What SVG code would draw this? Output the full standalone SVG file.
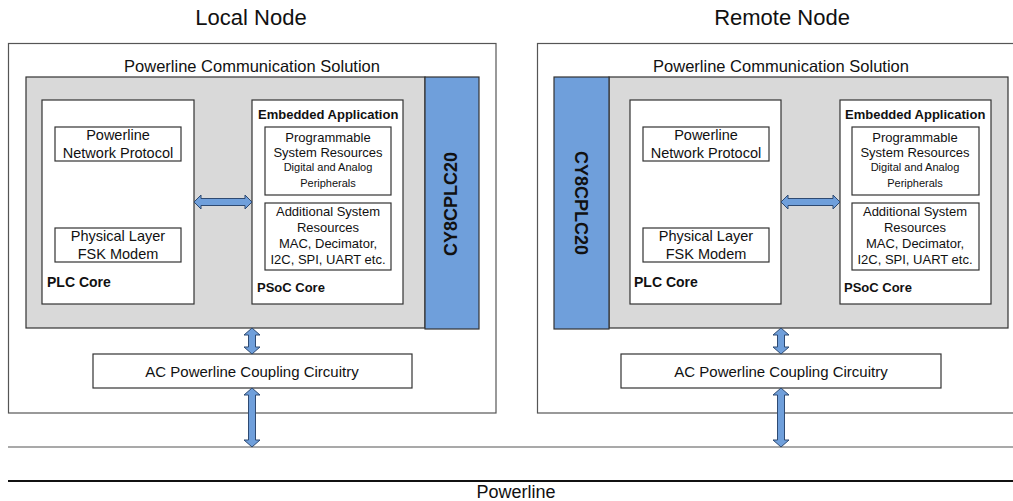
<svg xmlns="http://www.w3.org/2000/svg" width="1013" height="501" viewBox="0 0 1013 501">
<style>
text{font-family:"Liberation Sans",Arial,sans-serif;fill:#111;}
.frame{fill:#fff;stroke:#555;stroke-width:1.2;}
.gray{fill:#d9d9d9;stroke:#333;stroke-width:1.2;}
.blue{fill:#6f9fdb;stroke:#333;stroke-width:1.2;}
.box{fill:#fff;stroke:#333;stroke-width:1.2;}
.arrow{fill:#6f9fdb;stroke:#2e4a72;stroke-width:1;}
.t22{font-size:22px;text-anchor:middle;}
.t16{font-size:16.5px;text-anchor:middle;}
.t14{font-size:14.5px;text-anchor:middle;}
.t13{font-size:13px;text-anchor:middle;}
.t11{font-size:11px;text-anchor:middle;}
.b14{font-size:14px;font-weight:bold;}
.b13{font-size:13px;font-weight:bold;}
.chip{font-size:18px;font-weight:bold;text-anchor:middle;}
.t15{font-size:15px;text-anchor:middle;}
</style>

<g id="local-node">
  <text class="t22" x="251" y="25">Local Node</text>
  <rect class="frame" x="8.5" y="43.5" width="487.5" height="369.5"/>
  <text class="t16" x="252" y="72">Powerline Communication Solution</text>
  <rect class="gray" x="26" y="77" width="399" height="251"/>
  <rect class="blue" x="425" y="77" width="54" height="252"/>
  <text class="chip" transform="translate(457,204) rotate(-90)">CY8CPLC20</text>
  <g id="local-plc-core">
    <rect class="box" x="42" y="100" width="152" height="204"/>
    <rect class="box" x="55" y="127" width="126" height="34"/>
    <text class="t14" x="118" y="140">Powerline</text>
    <text class="t14" x="118" y="158">Network Protocol</text>
    <rect class="box" x="55" y="228" width="126" height="34"/>
    <text class="t14" x="118" y="241">Physical Layer</text>
    <text class="t14" x="118" y="259">FSK Modem</text>
    <text class="b14" x="47" y="287">PLC Core</text>
  </g>
  <g id="local-psoc-core">
    <rect class="box" x="252" y="100" width="151" height="204"/>
    <text class="b13" x="258" y="119">Embedded Application</text>
    <rect class="box" x="265" y="127" width="126" height="68"/>
    <text class="t13" x="328" y="142">Programmable</text>
    <text class="t13" x="328" y="157">System Resources</text>
    <text class="t11" x="328" y="171">Digital and Analog</text>
    <text class="t11" x="328" y="187">Peripherals</text>
    <rect class="box" x="265" y="203" width="126" height="67"/>
    <text class="t13" x="328" y="216">Additional System</text>
    <text class="t13" x="328" y="232">Resources</text>
    <text class="t13" x="328" y="248">MAC, Decimator,</text>
    <text class="t13" x="328" y="264">I2C, SPI, UART etc.</text>
    <text class="b13" x="257" y="292">PSoC Core</text>
  </g>
  <g id="local-ac">
    <rect class="box" x="93" y="354" width="319" height="34"/>
    <text class="t15" x="252" y="377">AC Powerline Coupling Circuitry</text>
  </g>
</g>

<g id="remote-node">
  <text class="t22" x="782" y="25">Remote Node</text>
  <rect class="frame" x="537.5" y="43.5" width="480" height="369.5"/>
  <text class="t16" x="781" y="72">Powerline Communication Solution</text>
  <rect class="gray" x="609" y="77" width="399" height="251"/>
  <rect class="blue" x="554" y="77" width="55" height="252"/>
  <text class="chip" transform="translate(575,203) rotate(90)">CY8CPLC20</text>
  <g id="remote-plc-core">
    <rect class="box" x="630" y="100" width="151" height="204"/>
    <rect class="box" x="643" y="127" width="126" height="34"/>
    <text class="t14" x="706" y="140">Powerline</text>
    <text class="t14" x="706" y="158">Network Protocol</text>
    <rect class="box" x="643" y="228" width="126" height="34"/>
    <text class="t14" x="706" y="241">Physical Layer</text>
    <text class="t14" x="706" y="259">FSK Modem</text>
    <text class="b14" x="634" y="287">PLC Core</text>
  </g>
  <g id="remote-psoc-core">
    <rect class="box" x="840" y="100" width="151" height="204"/>
    <text class="b13" x="845" y="119">Embedded Application</text>
    <rect class="box" x="852" y="127" width="127" height="68"/>
    <text class="t13" x="915" y="142">Programmable</text>
    <text class="t13" x="915" y="157">System Resources</text>
    <text class="t11" x="915" y="171">Digital and Analog</text>
    <text class="t11" x="915" y="187">Peripherals</text>
    <rect class="box" x="852" y="203" width="127" height="67"/>
    <text class="t13" x="915" y="216">Additional System</text>
    <text class="t13" x="915" y="232">Resources</text>
    <text class="t13" x="915" y="248">MAC, Decimator,</text>
    <text class="t13" x="915" y="264">I2C, SPI, UART etc.</text>
    <text class="b13" x="844" y="292">PSoC Core</text>
  </g>
  <g id="remote-ac">
    <rect class="box" x="621" y="354" width="320" height="34"/>
    <text class="t15" x="781" y="377">AC Powerline Coupling Circuitry</text>
  </g>
</g>

<g id="powerline">
  <line x1="8" y1="447" x2="1013" y2="447" stroke="#555" stroke-width="1.2"/>
  <line x1="8" y1="481" x2="1013" y2="481" stroke="#111" stroke-width="2"/>
  <text x="516" y="498" style="font-size:18px;text-anchor:middle">Powerline</text>
</g>

<g id="connectors">
  <polygon class="arrow" points="194,202 201,195 201,198.5 245,198.5 245,195 252,202 245,209 245,205.5 201,205.5 201,209"/>
  <polygon class="arrow" points="781,202 788,195 788,198.5 833,198.5 833,195 840,202 833,209 833,205.5 788,205.5 788,209"/>
  <polygon class="arrow" points="252,328 260,335 255.5,335 255.5,347 260,347 252,354 244,347 248.5,347 248.5,335 244,335"/>
  <polygon class="arrow" points="252,388 260,395 255.5,395 255.5,440 260,440 252,447 244,440 248.5,440 248.5,395 244,395"/>
  <polygon class="arrow" points="781,328 789,335 784.5,335 784.5,347 789,347 781,354 773,347 777.5,347 777.5,335 773,335"/>
  <polygon class="arrow" points="781,388 789,395 784.5,395 784.5,440 789,440 781,447 773,440 777.5,440 777.5,395 773,395"/>
</g>
</svg>
